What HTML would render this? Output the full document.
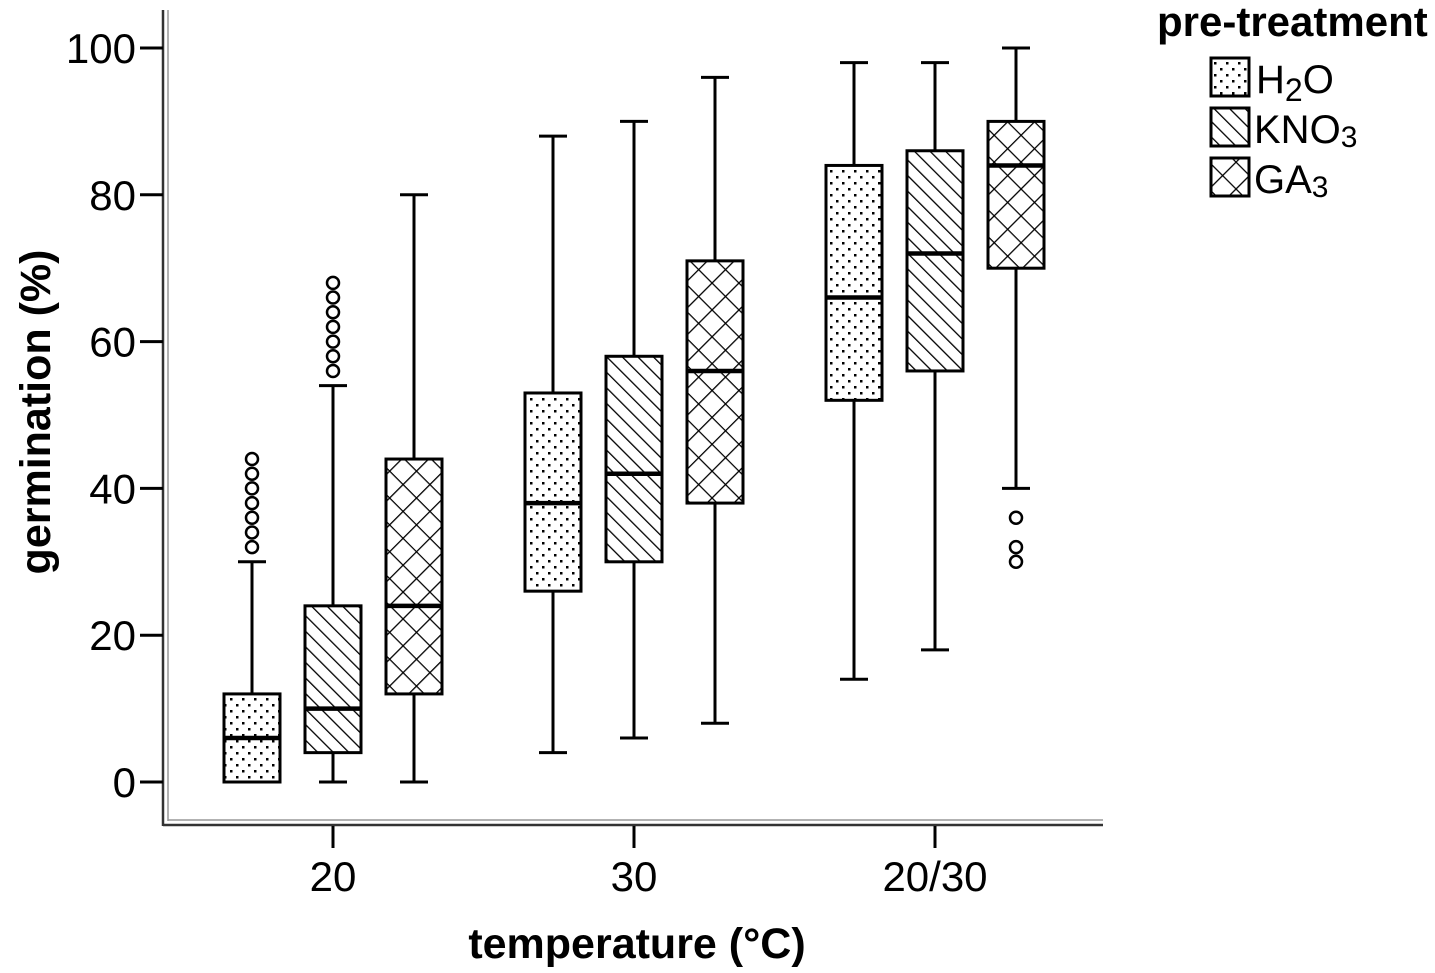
<!DOCTYPE html>
<html><head><meta charset="utf-8"><style>
body{margin:0;background:#fff}
svg{display:block;font-family:"Liberation Sans",Arial,sans-serif}
</style></head><body>
<svg id="chart" width="1435" height="973" viewBox="0 0 1435 973">
<defs>
<pattern id="dots" width="12" height="12" patternUnits="userSpaceOnUse">
<rect width="12" height="12" fill="#fff"/><rect x="2" y="2" width="2.5" height="2.5" fill="#000"/><rect x="8" y="8" width="2.5" height="2.5" fill="#000"/>
</pattern>
<pattern id="diag" width="11" height="11" patternUnits="userSpaceOnUse" patternTransform="rotate(-45)">
<rect width="11" height="11" fill="#fff"/><line x1="0" y1="0" x2="0" y2="11" stroke="#000" stroke-width="2.6"/>
</pattern>
<pattern id="cross" width="19" height="19" patternUnits="userSpaceOnUse" patternTransform="rotate(45)">
<rect width="19" height="19" fill="#fff"/><line x1="0" y1="0" x2="0" y2="19" stroke="#000" stroke-width="2.6"/><line x1="0" y1="0" x2="19" y2="0" stroke="#000" stroke-width="2.6"/>
</pattern>
</defs>
<g id="axes"></g>
<g id="boxes"></g>
<text x="637" y="958" font-size="43" font-weight="bold" text-anchor="middle">temperature (°C)</text>
<text transform="translate(50,412) rotate(-90)" font-size="43" font-weight="bold" text-anchor="middle">germination (%)</text>
<g>
<text x="1157" y="36" font-size="42" font-weight="bold">pre-treatment</text>
<g><rect x="1211" y="58" width="38" height="38" fill="url(#dots)" stroke="#000" stroke-width="3"/><text x="1256" y="93" font-size="40">H<tspan font-size="32" dy="8">2</tspan><tspan dy="-8">O</tspan></text></g>
<g><rect x="1211" y="108" width="38" height="38" fill="url(#diag)" stroke="#000" stroke-width="3"/><text x="1254" y="143" font-size="40">KNO<tspan font-size="30" dy="4">3</tspan></text></g>
<g><rect x="1211" y="158" width="38" height="38" fill="url(#cross)" stroke="#000" stroke-width="3"/><text x="1254" y="193" font-size="40">GA<tspan font-size="30" dy="4">3</tspan></text></g>
</g>
</svg>
<script>
const categories=["20","30","20/30"];
const treatments=["H2O","KNO3","GA3"];
const mins=[[0,0,0],[4,6,8],[14,18,40]];
const q1s=[[0,4,12],[26,30,38],[52,56,70]];
const medians=[[6,10,24],[38,42,56],[66,72,84]];
const q3s=[[12,24,44],[53,58,71],[84,86,90]];
const maxs=[[30,54,80],[88,90,96],[98,98,100]];
const outliers=[[[32,34,36,38,40,42,44],[56,58,60,62,64,66,68],[]],[[],[],[]],[[],[],[30,32,36]]];
const yTicks=[0,20,40,60,80,100];
const fills=["url(#dots)","url(#diag)","url(#cross)"];
const NS="http://www.w3.org/2000/svg";
const y=v=>782-v*7.34;
const xc=(c)=>333+c*301;
const xo=(t)=>(t-1)*81;
function mk(tag,attrs,parent){const e=document.createElementNS(NS,tag);for(const k in attrs)e.setAttribute(k,attrs[k]);parent.appendChild(e);return e;}
const ax=document.getElementById('axes');
const frame=mk('g',{},ax);


mk('line',{x1:163,y1:10,x2:163,y2:826,stroke:'#333','stroke-width':2.5},frame);
mk('line',{x1:168,y1:10,x2:168,y2:821,stroke:'#999','stroke-width':1.5},frame);
mk('line',{x1:163,y1:825,x2:1103,y2:825,stroke:'#333','stroke-width':2.5},frame);
mk('line',{x1:168,y1:820,x2:1103,y2:820,stroke:'#999','stroke-width':1.5},frame);
yTicks.forEach(v=>{
 const g=mk('g',{},ax);
 
 
 mk('line',{x1:140,y1:y(v),x2:163,y2:y(v),stroke:'#000','stroke-width':3},g);
 const t=mk('text',{x:136,y:y(v)+15,'font-size':42,'text-anchor':'end'},g);t.textContent=v;
});
categories.forEach((c,i)=>{
 const g=mk('g',{},ax);
 
 
 mk('line',{x1:xc(i),y1:826,x2:xc(i),y2:848,stroke:'#000','stroke-width':3},g);
 const t=mk('text',{x:xc(i),y:891,'font-size':42,'text-anchor':'middle'},g);t.textContent=c;
});
const bx=document.getElementById('boxes');
categories.forEach((c,i)=>{treatments.forEach((tr,j)=>{
 const cx=xc(i)+xo(j),w=56;
 const g=mk('g',{},bx);
 
 
 mk('line',{x1:cx,y1:y(maxs[i][j]),x2:cx,y2:y(q3s[i][j]),stroke:'#000','stroke-width':3},g);
 mk('line',{x1:cx,y1:y(q1s[i][j]),x2:cx,y2:y(mins[i][j]),stroke:'#000','stroke-width':3},g);
 mk('line',{x1:cx-14,y1:y(maxs[i][j]),x2:cx+14,y2:y(maxs[i][j]),stroke:'#000','stroke-width':3},g);
 mk('line',{x1:cx-14,y1:y(mins[i][j]),x2:cx+14,y2:y(mins[i][j]),stroke:'#000','stroke-width':3},g);
 mk('rect',{x:cx-w/2,y:y(q3s[i][j]),width:w,height:Math.max(0,y(q1s[i][j])-y(q3s[i][j])),fill:fills[j],stroke:'#000','stroke-width':3},g);
 mk('line',{x1:cx-w/2,y1:y(medians[i][j]),x2:cx+w/2,y2:y(medians[i][j]),stroke:'#000','stroke-width':4.5},g);
 outliers[i][j].forEach(o=>{
  const ci=mk('circle',{cx:cx,cy:y(o),r:6,fill:'#fff',stroke:'#000','stroke-width':2.5},g);
  
  
 });
});});
</script>
</body></html>
